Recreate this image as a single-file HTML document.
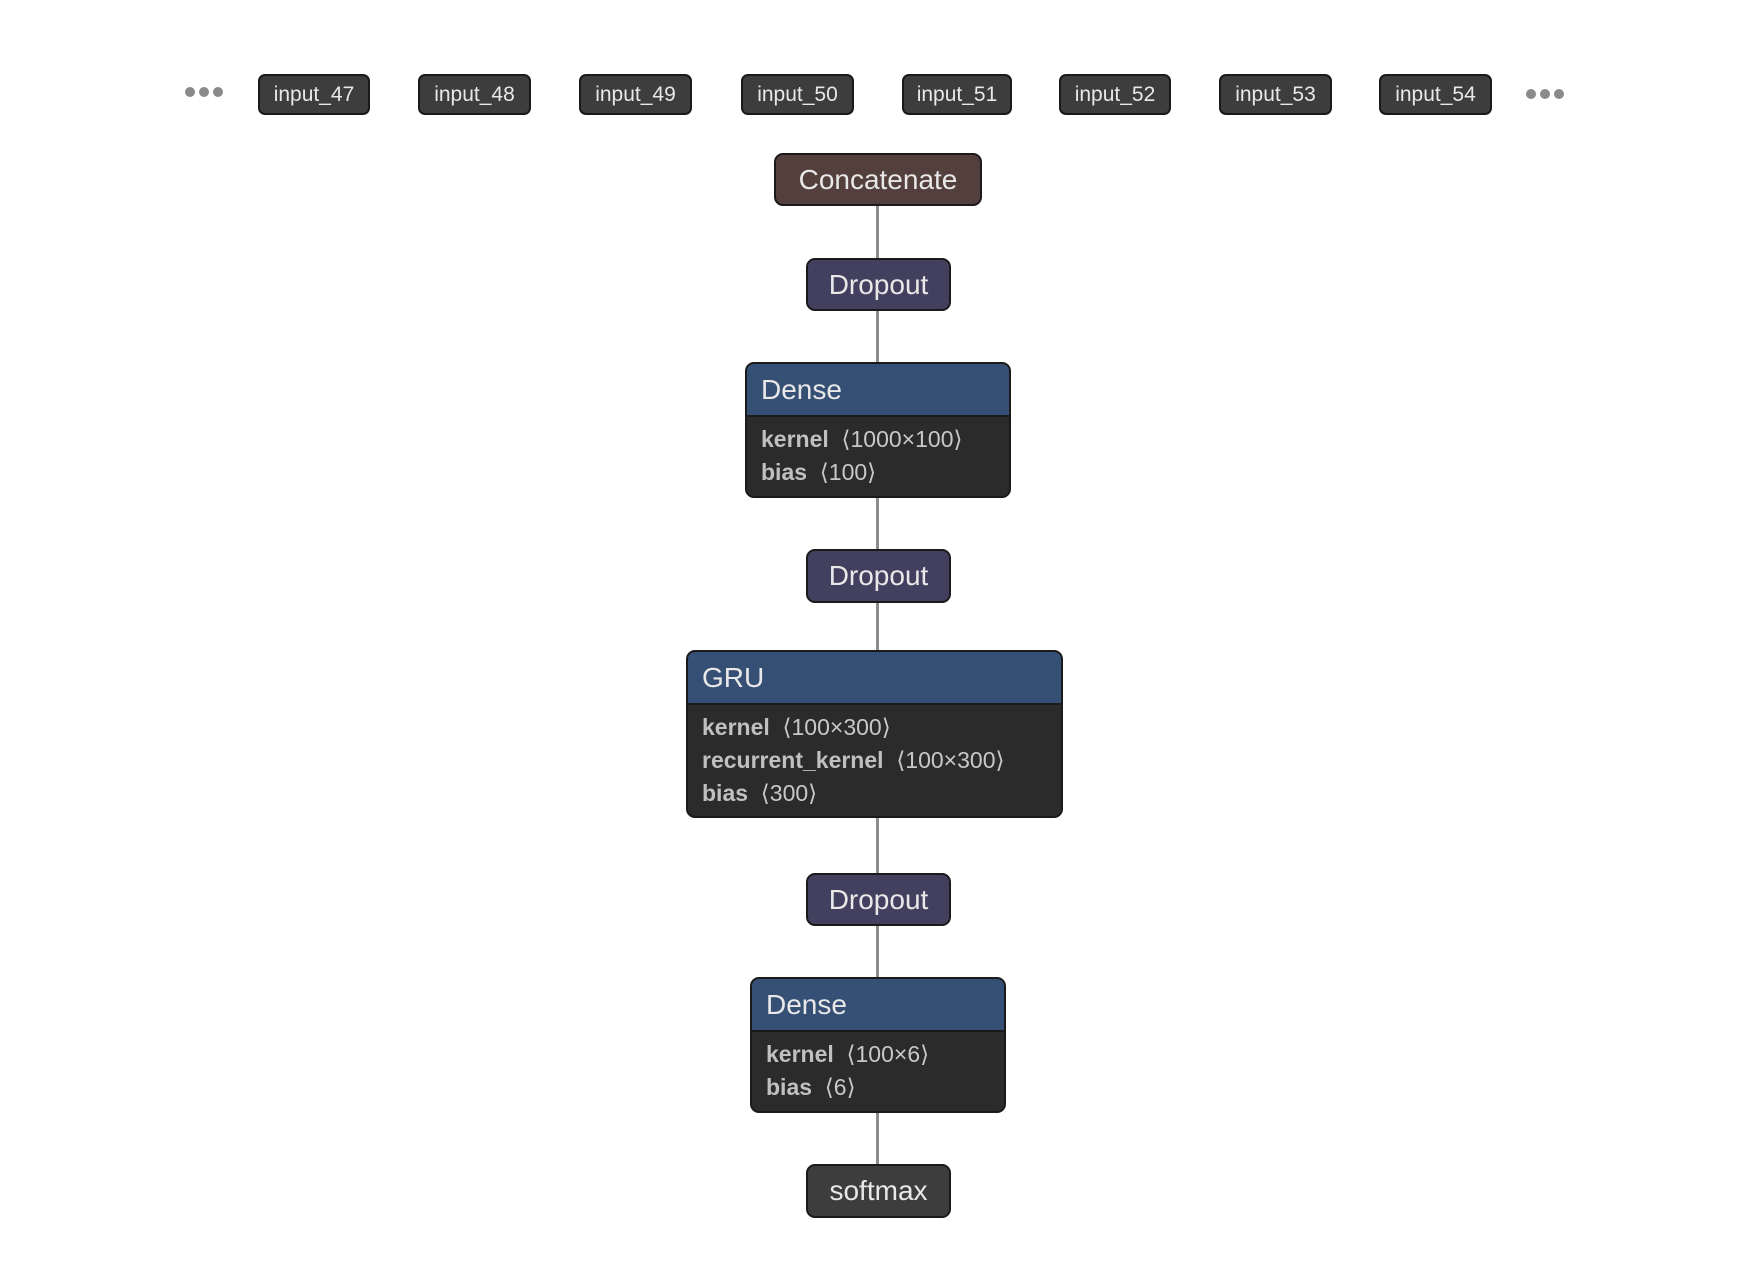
<!DOCTYPE html>
<html><head><meta charset="utf-8"><style>
html,body{margin:0;padding:0;background:#fff;}
body{width:1742px;height:1266px;position:relative;overflow:hidden;font-family:"Liberation Sans",sans-serif;}
.n{position:absolute;box-sizing:border-box;border:2px solid #1a1a1a;border-radius:9px;color:#e8e8e8;overflow:hidden;}
.in{background:#3d3d3d;font-size:21px;text-align:center;line-height:37px;border-radius:7px;}
.s{font-size:28px;text-align:center;}
.hd{background:#364f75;color:#e8e8e8;font-size:28px;padding-left:14px;box-sizing:border-box;border-bottom:2px solid #1a1a1a;}
.bd{background:#2b2b2b;padding:6px 0 0 14px;font-size:23px;line-height:33px;color:#c8c8c8;}
.bd b{color:#c0c0c0;}
.dot{position:absolute;width:10px;height:10px;border-radius:50%;background:#8a8a8a;}
.ln{position:absolute;left:876px;width:3px;background:#8c8c8c;}
</style></head><body>
<div class="dot" style="left:185px;top:87px"></div><div class="dot" style="left:199px;top:87px"></div><div class="dot" style="left:213px;top:87px"></div>
<div class="dot" style="left:1526px;top:89px"></div><div class="dot" style="left:1540px;top:89px"></div><div class="dot" style="left:1554px;top:89px"></div>
<div class="n in" style="left:258px;top:74px;width:112px;height:41px">input_47</div>
<div class="n in" style="left:418px;top:74px;width:113px;height:41px">input_48</div>
<div class="n in" style="left:579px;top:74px;width:113px;height:41px">input_49</div>
<div class="n in" style="left:741px;top:74px;width:113px;height:41px">input_50</div>
<div class="n in" style="left:902px;top:74px;width:110px;height:41px">input_51</div>
<div class="n in" style="left:1059px;top:74px;width:112px;height:41px">input_52</div>
<div class="n in" style="left:1219px;top:74px;width:113px;height:41px">input_53</div>
<div class="n in" style="left:1379px;top:74px;width:113px;height:41px">input_54</div>

<div class="ln" style="top:206px;height:52px"></div>
<div class="ln" style="top:311px;height:52px"></div>
<div class="ln" style="top:498px;height:51px"></div>
<div class="ln" style="top:603px;height:48px"></div>
<div class="ln" style="top:818px;height:55px"></div>
<div class="ln" style="top:926px;height:52px"></div>
<div class="ln" style="top:1113px;height:51px"></div>

<div class="n s" style="left:774px;top:153px;width:208px;height:53px;line-height:49px;background:#533f3b">Concatenate</div>
<div class="n s" style="left:806px;top:258px;width:145px;height:53px;line-height:49px;background:#43405f">Dropout</div>
<div class="n" style="left:745px;top:362px;width:266px;height:136px;background:#2b2b2b">
 <div class="hd" style="height:53px;line-height:51px">Dense</div>
 <div class="bd"><b>kernel</b>&nbsp; ⟨1000×100⟩<br><b>bias</b>&nbsp; ⟨100⟩</div></div>
<div class="n s" style="left:806px;top:549px;width:145px;height:54px;line-height:50px;background:#43405f">Dropout</div>
<div class="n" style="left:686px;top:650px;width:377px;height:168px;background:#2b2b2b">
 <div class="hd" style="height:53px;line-height:51px">GRU</div>
 <div class="bd"><b>kernel</b>&nbsp; ⟨100×300⟩<br><b>recurrent_kernel</b>&nbsp; ⟨100×300⟩<br><b>bias</b>&nbsp; ⟨300⟩</div></div>
<div class="n s" style="left:806px;top:873px;width:145px;height:53px;line-height:49px;background:#43405f">Dropout</div>
<div class="n" style="left:750px;top:977px;width:256px;height:136px;background:#2b2b2b">
 <div class="hd" style="height:53px;line-height:51px">Dense</div>
 <div class="bd"><b>kernel</b>&nbsp; ⟨100×6⟩<br><b>bias</b>&nbsp; ⟨6⟩</div></div>
<div class="n s" style="left:806px;top:1164px;width:145px;height:54px;line-height:50px;background:#3d3d3d">softmax</div>
</body></html>
